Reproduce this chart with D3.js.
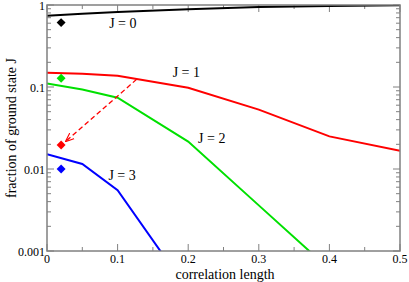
<!DOCTYPE html>
<html lang="en">
<head>
    <meta charset="UTF-8">
    <title>ground state fraction</title>
    <script src="https://d3js.org/d3.v7.min.js"></script>
    <style>
        body{ margin:0; background:#fff; }
        svg text{ font-family:"Liberation Serif","DejaVu Serif",serif; fill:#000; }
        .frame{ fill:none; stroke:#808080; stroke-width:1.5; }
    </style>
</head>
<body>
<svg width="409" height="282" id="chart" font-family="Liberation Serif, DejaVu Serif, serif"></svg>
<script>
    // correlation length values
    let xs = [0, 0.05, 0.1, 0.2, 0.3, 0.4, 0.5]
    let j0 = [0.74, 0.78, 0.82, 0.885, 0.945, 0.975, 0.99]
    let j1 = [0.149, 0.145, 0.137, 0.098, 0.053, 0.025, 0.0167]
    let j2 = [0.11, 0.093, 0.074, 0.0216, 0.0036, 0.0006, 0.0001]
    let j3 = [0.0152, 0.0115, 0.0055, 0.00033, 0.00002, 0.000001, 0.0000001]
    let diamondX = 0.02
    let diamondY = [0.61, 0.128, 0.0196, 0.01]
    let diamondColors = ["#000000", "#00e000", "#ff0000", "#0000ff"]
    let colors = ["#000000", "#ff0000", "#00e000", "#0000ff"]
    let labels = ["J = 0", "J = 1", "J = 2", "J = 3"]
    let labelPos = [[0.088, 0.52], [0.178, 0.131], [0.214, 0.021], [0.087, 0.0073]]
    let arrow = [[0.127, 0.124], [0.026, 0.0215]]
    let xTicks = [0, 0.1, 0.2, 0.3, 0.4, 0.5]
    let yTicks = [0.001, 0.01, 0.1, 1]

    let svg = d3.select("#chart")
    let m = {left:47, right:9, top:5, bottom:31}
    let W = 409, H = 282
    let x = d3.scaleLinear().domain([0, 0.5]).range([m.left, W - m.right])
    let y = d3.scaleLog().domain([0.001, 1]).range([H - m.bottom, m.top])

    let defs = svg.append("defs")
    defs.append("clipPath").attr("id","clip")
        .append("rect")
        .attr("x", m.left).attr("y", m.top)
        .attr("width", W - m.left - m.right).attr("height", H - m.top - m.bottom)
    defs.append("marker").attr("id","arr")
        .attr("viewBox","0 0 10 10").attr("refX",10).attr("refY",5)
        .attr("markerWidth",9).attr("markerHeight",9)
        .attr("markerUnits","userSpaceOnUse")
        .attr("orient","auto")
        .append("path").attr("d","M0,1 L10,5 L0,9")
        .attr("fill","none").attr("stroke","#ff0000").attr("stroke-width",1.3)

    // minor ticks
    let xMinor = d3.range(0.05, 0.5, 0.1)
    let yMinor = []
    for (let e of [0.001, 0.01, 0.1]) for (let k = 2; k < 10; k++) yMinor.push(e * k)

    let g = svg.append("g").attr("stroke", "#808080")
    function xTick(v, len) {
        g.append("line").attr("x1", x(v)).attr("x2", x(v)).attr("y1", y(0.001)).attr("y2", y(0.001) - len)
        g.append("line").attr("x1", x(v)).attr("x2", x(v)).attr("y1", y(1)).attr("y2", y(1) + len)
    }
    function yTick(v, len) {
        g.append("line").attr("x1", x(0)).attr("x2", x(0) + len).attr("y1", y(v)).attr("y2", y(v))
        g.append("line").attr("x1", x(0.5)).attr("x2", x(0.5) - len).attr("y1", y(v)).attr("y2", y(v))
    }
    xTicks.forEach(v => xTick(v, 7))
    xMinor.forEach(v => xTick(v, 4))
    yTicks.forEach(v => yTick(v, 7))
    yMinor.forEach(v => yTick(v, 4))

    // tick labels
    let tl = svg.append("g")
    tl.selectAll(".xl").data(xTicks).join("text")
        .attr("x", d => x(d)).attr("y", y(0.001) + 12)
        .attr("text-anchor", "middle").attr("font-size", 12)
        .text(d => d === 0 ? "0" : d3.format(".1f")(d))
    tl.selectAll(".yl").data(yTicks).join("text")
        .attr("x", x(0) - 2).attr("y", d => y(d) + 5)
        .attr("text-anchor", "end").attr("font-size", 12)
        .text(d => d === 1 ? "1" : String(d))

    svg.append("text").attr("x", 225).attr("y", 278.5)
        .attr("text-anchor", "middle").attr("font-size", 14).text("correlation length")
    svg.append("text").attr("transform", "translate(16," + ((y(1) + y(0.001)) / 2) + ") rotate(-90)")
        .attr("text-anchor", "middle").attr("font-size", 14).text("fraction of ground state J")

    // series
    let line = d3.line().x((d, i) => x(xs[i])).y(d => y(d))
    let plot = svg.append("g").attr("clip-path", "url(#clip)")
    ;[j0, j1, j2, j3].forEach(function (s, i) {
        plot.append("path").attr("d", line(s)).attr("fill", "none")
            .attr("stroke", colors[i]).attr("stroke-width", 2)
    })

    // arrow
    plot.append("line")
        .attr("x1", x(arrow[0][0])).attr("y1", y(arrow[0][1]))
        .attr("x2", x(arrow[1][0])).attr("y2", y(arrow[1][1]))
        .attr("stroke", "#ff0000").attr("stroke-width", 1.3)
        .attr("stroke-dasharray", "5,3").attr("marker-end", "url(#arr)")

    // diamonds
    plot.selectAll(".dm").data(diamondY).join("path")
        .attr("d", d3.symbol().type(d3.symbolSquare).size(40))
        .attr("transform", d => "translate(" + x(diamondX) + "," + y(d) + ") rotate(45)")
        .attr("fill", (d, i) => diamondColors[i])

    // labels
    svg.selectAll(".jl").data(labels).join("text")
        .attr("x", (d, i) => x(labelPos[i][0])).attr("y", (d, i) => y(labelPos[i][1]))
        .attr("font-size", 14).text(d => d)

    // frame
    svg.append("rect").attr("class", "frame")
        .attr("x", m.left).attr("y", m.top)
        .attr("width", W - m.left - m.right).attr("height", H - m.top - m.bottom)
</script>
</body>
</html>
